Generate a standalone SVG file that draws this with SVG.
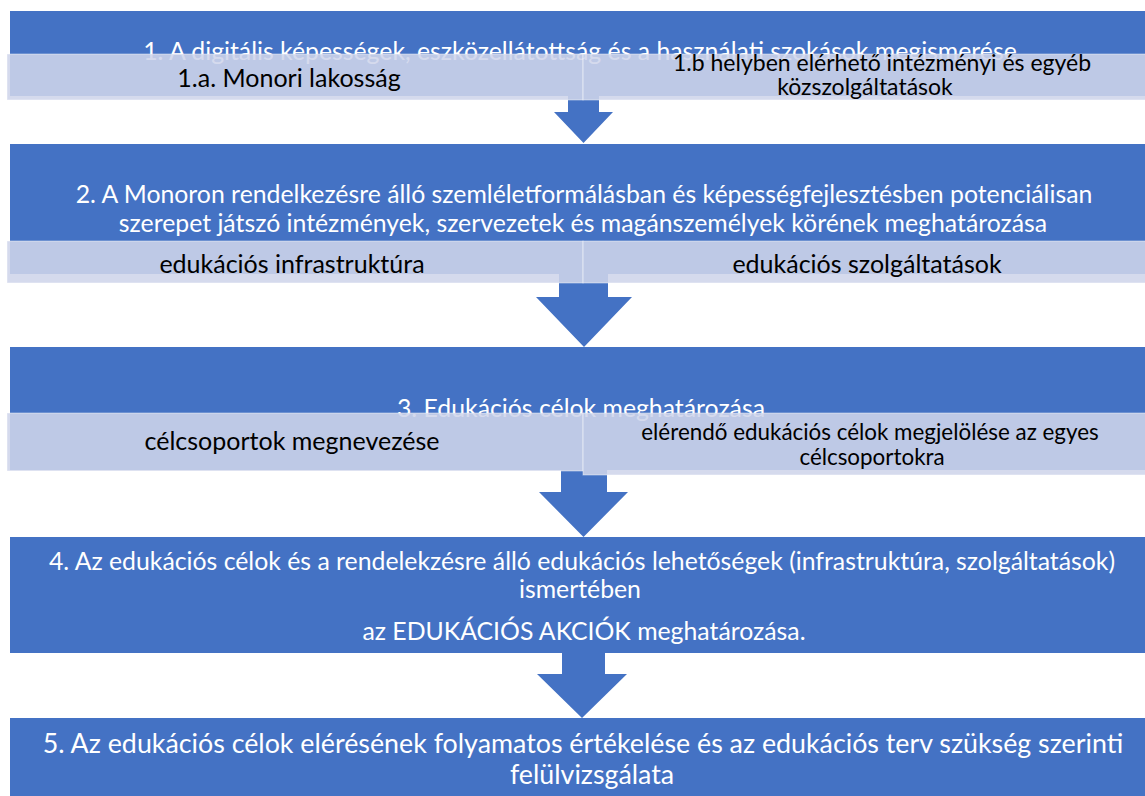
<svg xmlns="http://www.w3.org/2000/svg" width="1145" height="796" viewBox="0 0 1145 796">
<style>
.box{fill:#4472C4}
.bar{fill:#CFD5EA;fill-opacity:0.88;stroke:#FFFFFF;stroke-opacity:0.45;stroke-width:1}
.arr{fill:#4472C4}
.t{font-family:Lato,"Liberation Sans",sans-serif;fill:#FFFFFF;font-size:24.8px;text-anchor:middle}
.t5{font-family:Lato,"Liberation Sans",sans-serif;fill:#FFFFFF;font-size:26.8px;text-anchor:middle}
.s{font-family:Lato,"Liberation Sans",sans-serif;fill:#000000;font-size:25px;text-anchor:middle}
.ss{font-family:Lato,"Liberation Sans",sans-serif;fill:#000000;font-size:23px;text-anchor:middle}
.ss2{font-family:Lato,"Liberation Sans",sans-serif;fill:#000000;font-size:22.4px;text-anchor:middle}
</style>
<rect width="1145" height="796" fill="#FFFFFF"/>
<g id="step1">
<rect class="box" x="10" y="11" width="1140" height="85"/>
<text class="t" x="580" y="60">1. A digitális képességek, eszközellátottság és a használati szokások megismerése</text>
</g>
<g id="step2">
<rect class="box" x="10" y="144" width="1140" height="130"/>
<text class="t" x="584" y="203">2. A Monoron rendelkezésre álló szemléletformálásban és képességfejlesztésben potenciálisan</text>
<text class="t" x="583" y="232">szerepet játszó intézmények, szervezetek és magánszemélyek körének meghatározása</text>
</g>
<g id="step3">
<rect class="box" x="10" y="347" width="1140" height="123"/>
<text class="t" x="581" y="417">3. Edukációs célok meghatározása</text>
</g>
<g id="step4">
<rect class="box" x="10" y="537" width="1140" height="116"/>
<text class="t" x="582" y="570">4. Az edukációs célok és a rendelekzésre álló edukációs lehetőségek (infrastruktúra, szolgáltatások)</text>
<text class="t" x="580" y="598">ismertében</text>
<text class="t" x="584" y="640">az EDUKÁCIÓS AKCIÓK meghatározása.</text>
</g>
<g id="step5">
<rect class="box" x="10" y="718" width="1140" height="90"/>
<text class="t5" x="583" y="753">5. Az edukációs célok elérésének folyamatos értékelése és az edukációs terv szükség szerinti</text>
<text class="t5" x="592" y="784">felülvizsgálata</text>
</g>
<g id="connectors">
<polygon class="arr" points="568,96 599,96 599,112 613,112 583.5,143 554,112 568,112"/>
<polygon class="arr" points="559,274 608,274 608,297 632,297 584,347 536,297 559,297"/>
<polygon class="arr" points="561,470 607,470 607,492 628,492 583.5,537 539,492 561,492"/>
<polygon class="arr" points="562,653 605,653 605,674 627,674 582,718 537,674 562,674"/>
</g>
<g id="sub1a">
<rect class="bar" x="7" y="54" width="576" height="46"/>
<text class="s" x="289" y="87">1.a. Monori lakosság</text>
</g>
<g id="sub1b">
<rect class="bar" x="583" y="54" width="570" height="46"/>
<text class="ss" x="882" y="71">1.b helyben elérhető intézményi és egyéb</text>
<text class="ss" x="865" y="95">közszolgáltatások</text>
</g>
<g id="sub2a">
<rect class="bar" x="7" y="241" width="576" height="42"/>
<text class="s" x="292" y="273">edukációs infrastruktúra</text>
</g>
<g id="sub2b">
<rect class="bar" x="583" y="241" width="570" height="42"/>
<text class="s" x="867" y="273">edukációs szolgáltatások</text>
</g>
<g id="sub3a">
<rect class="bar" x="7" y="413" width="576" height="58"/>
<text class="s" x="292" y="450">célcsoportok megnevezése</text>
</g>
<g id="sub3b">
<rect class="bar" x="583" y="413" width="570" height="62"/>
<text class="ss2" x="870" y="440">elérendő edukációs célok megjelölése az egyes</text>
<text class="ss2" x="872" y="465">célcsoportokra</text>
</g>
</svg>
